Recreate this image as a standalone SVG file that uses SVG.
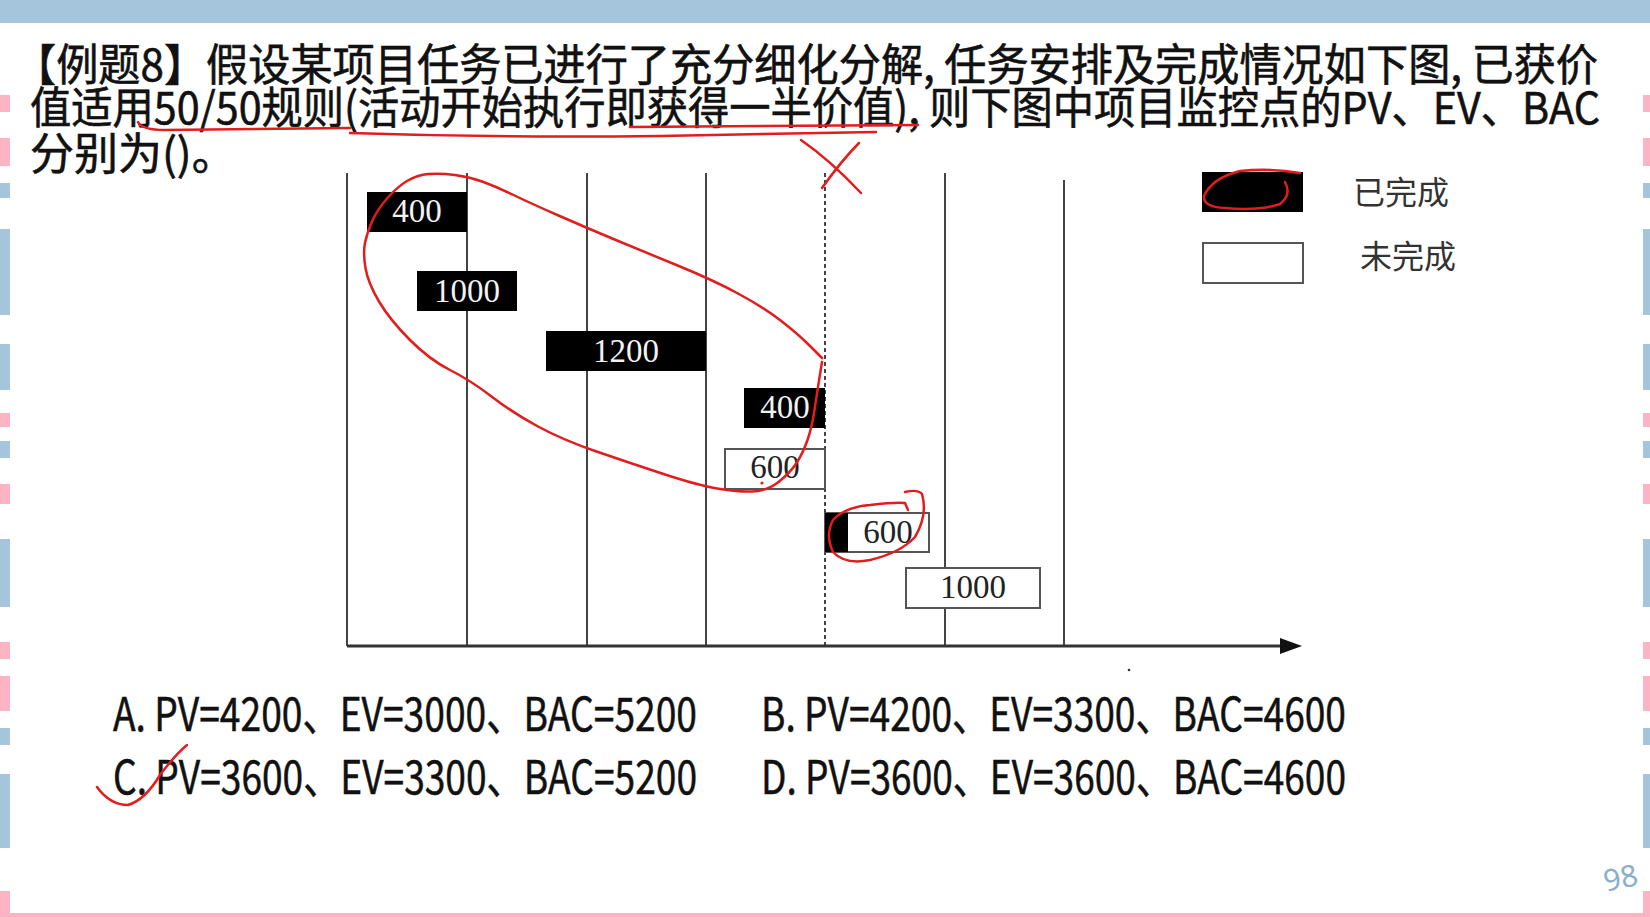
<svg xmlns="http://www.w3.org/2000/svg" width="1650" height="917" viewBox="0 0 1650 917">
<defs>
<style>
.title{font-family:"Noto Sans CJK SC","Noto Sans",sans-serif;font-size:44px;fill:#111;stroke:#111;stroke-width:0.6;}
.opt{font-family:"Noto Sans CJK SC","Noto Sans",sans-serif;font-size:46px;fill:#111;stroke:#111;stroke-width:0.5;}
.done{fill:#000;}
.todo{fill:#fff;stroke:#555;stroke-width:2;}
.lbl{font-family:"Liberation Serif","Times New Roman",serif;font-size:33px;text-anchor:middle;}
.lw{fill:#f2f2f2;}
.lk{fill:#222;}
.grid{stroke:#444;stroke-width:2;fill:none;}
.red{fill:none;stroke:#e11d1d;stroke-width:2.5;stroke-linecap:round;stroke-linejoin:round;}
.blue{fill:#a5c5dc;}
.pink{fill:#fcb3c3;}
.leg{font-family:"Noto Sans CJK SC","Noto Sans",sans-serif;font-size:32px;fill:#333;}
</style>
<marker id="arr" markerUnits="userSpaceOnUse" markerWidth="22" markerHeight="16" refX="1" refY="8" orient="auto">
<path d="M0,0 L22,8 L0,16 Z" fill="#111"/>
</marker>
</defs>
<rect x="0" y="0" width="1650" height="917" fill="#fff"/>
<g id="frame">
<rect class="blue" x="0" y="0" width="1650" height="23"/>
<rect class="pink" x="0" y="913" width="1650" height="4"/>
<g id="strip-left">
<rect class="pink" x="0" y="95" width="10" height="17"/>
<rect class="pink" x="0" y="138" width="10" height="28"/>
<rect class="blue" x="0" y="183" width="10" height="15"/>
<rect class="blue" x="0" y="229" width="10" height="86"/>
<rect class="blue" x="0" y="344" width="10" height="46"/>
<rect class="pink" x="0" y="413" width="10" height="14"/>
<rect class="blue" x="0" y="441" width="10" height="17"/>
<rect class="pink" x="0" y="484" width="10" height="20"/>
<rect class="blue" x="0" y="539" width="10" height="68"/>
<rect class="pink" x="0" y="642" width="10" height="17"/>
<rect class="pink" x="0" y="676" width="10" height="35"/>
<rect class="blue" x="0" y="728" width="10" height="17"/>
<rect class="blue" x="0" y="774" width="10" height="74"/>
<rect class="pink" x="0" y="891" width="10" height="26"/>
</g>
<g id="strip-right">
<rect class="pink" x="1643" y="95" width="7" height="17"/>
<rect class="pink" x="1643" y="138" width="7" height="28"/>
<rect class="blue" x="1643" y="183" width="7" height="15"/>
<rect class="blue" x="1643" y="229" width="7" height="86"/>
<rect class="blue" x="1643" y="344" width="7" height="46"/>
<rect class="pink" x="1643" y="413" width="7" height="14"/>
<rect class="blue" x="1643" y="441" width="7" height="17"/>
<rect class="pink" x="1643" y="484" width="7" height="20"/>
<rect class="blue" x="1643" y="539" width="7" height="68"/>
<rect class="pink" x="1643" y="642" width="7" height="17"/>
<rect class="pink" x="1643" y="676" width="7" height="35"/>
<rect class="blue" x="1643" y="728" width="7" height="17"/>
<rect class="blue" x="1643" y="774" width="7" height="74"/>
<rect class="pink" x="1643" y="891" width="7" height="26"/>
</g>
<text x="1603" y="889" font-family="Noto Sans, sans-serif" font-size="30" fill="#8ab0cc" transform="rotate(-12 1618 876)">98</text>
</g>
<g id="question">
<text class="title" x="14" y="81" textLength="1584" lengthAdjust="spacingAndGlyphs">【例题8】假设某项目任务已进行了充分细化分解, 任务安排及完成情况如下图, 已获价</text>
<text class="title" x="30" y="124" textLength="1570" lengthAdjust="spacingAndGlyphs">值适用50/50规则(活动开始执行即获得一半价值), 则下图中项目监控点的PV、EV、BAC</text>
<text class="title" x="30" y="170">分别为()。</text>
</g>
<g id="connectors">
<line class="grid" x1="347" y1="173" x2="347" y2="646"/>
<line class="grid" x1="467" y1="173" x2="467" y2="646"/>
<line class="grid" x1="587" y1="173" x2="587" y2="646"/>
<line class="grid" x1="706" y1="173" x2="706" y2="646"/>
<line class="grid" x1="825" y1="173" x2="825" y2="646" stroke-dasharray="4 3" stroke="#555"/>
<line class="grid" x1="945" y1="173" x2="945" y2="646"/>
<line class="grid" x1="1064" y1="180" x2="1064" y2="646"/>
<line x1="347" y1="646" x2="1281" y2="646" stroke="#333" stroke-width="3" marker-end="url(#arr)"/>
</g>
<g id="task-400a"><rect class="done" x="367" y="192" width="100" height="40"/><text class="lbl lw" x="417" y="222">400</text></g>
<g id="task-1000a"><rect class="done" x="417" y="271" width="100" height="40"/><text class="lbl lw" x="467" y="302">1000</text></g>
<g id="task-1200"><rect class="done" x="546" y="331" width="160" height="40"/><text class="lbl lw" x="626" y="362">1200</text></g>
<g id="task-400b"><rect class="done" x="744" y="388" width="81" height="40"/><text class="lbl lw" x="785" y="418">400</text></g>
<g id="task-600a"><rect class="todo" x="725" y="449" width="100" height="40"/><text class="lbl lk" x="775" y="478">600</text></g>
<g id="task-600b"><rect class="todo" x="825" y="513" width="104" height="39"/><rect class="done" x="825" y="513" width="23" height="39"/><text class="lbl lk" x="888" y="543">600</text></g>
<g id="task-1000b"><rect class="todo" x="906" y="568" width="134" height="40"/><text class="lbl lk" x="973" y="598">1000</text></g>
<circle cx="1129" cy="670" r="1.3" fill="#333"/>
<g id="legend-done"><rect class="done" x="1202" y="172" width="101" height="40"/><text class="leg" x="1353" y="204">已完成</text></g>
<g id="legend-todo"><rect class="todo" x="1203" y="243" width="100" height="40"/><text class="leg" x="1360" y="268">未完成</text></g>
<g id="options">
<text class="opt" x="113" y="731" textLength="584" lengthAdjust="spacingAndGlyphs">A. PV=4200、EV=3000、BAC=5200</text>
<text class="opt" x="761" y="731" textLength="585" lengthAdjust="spacingAndGlyphs">B. PV=4200、EV=3300、BAC=4600</text>
<text class="opt" x="113" y="794" textLength="584" lengthAdjust="spacingAndGlyphs">C. PV=3600、EV=3300、BAC=5200</text>
<text class="opt" x="761" y="794" textLength="585" lengthAdjust="spacingAndGlyphs">D. PV=3600、EV=3600、BAC=4600</text>
</g>
<g id="annotations">
<path class="red" d="M138,122 Q142,130 165,130 L350,128"/>
<path class="red" d="M350,133 Q500,138 660,136 Q780,134 876,132"/>
<path class="red" d="M630,127 L918,125"/>
<path class="red" d="M801,140 Q830,160 861,193"/>
<path class="red" d="M859,143 Q842,160 822,188"/>
<path class="red" d="M822,358 L809.5,345.5 Q797,333 780,320 Q763,307 738,293.5 Q713,280 680,266.5 Q647,253 617,240.5 Q587,228 558.5,215.5 Q530,203 513.5,195 Q497,187 483.5,182 Q470,177 455,175 Q440,173 428.5,174 Q417,175 407,181 Q397,187 387,198.5 Q377,210 372,221.5 Q367,233 365,243 Q363,253 365.5,268 Q368,283 379,301.5 Q390,320 410,340 Q430,360 450,370 Q470,380 491.5,396.5 Q513,413 538,426.5 Q563,440 596.5,451.5 Q630,463 663.5,474 Q697,485 717,488.5 Q737,492 752,491.5 Q767,491 778.5,482 Q790,473 796.5,463 Q803,453 807.5,440 Q812,427 814.5,410 Q817,393 819.5,377.5 L822,362"/>
<circle cx="762" cy="483" r="1.6" fill="#e11d1d"/>
<path class="red" d="M905,492 Q918,489 922,494 Q928,515 915,537 Q900,553 870,560 Q845,565 833,552 Q825,535 833,520 Q845,507 870,505 Q895,502 905,503 L908,510"/>
<path class="red" d="M1300,173 Q1270,168 1240,171 Q1212,178 1204,196 Q1203,207 1225,208 Q1260,211 1280,204 Q1292,195 1285,182"/>
<path class="red" d="M97,787 Q110,805 128,805 Q145,800 160,775 Q175,755 187,745"/>
</g>
</svg>
